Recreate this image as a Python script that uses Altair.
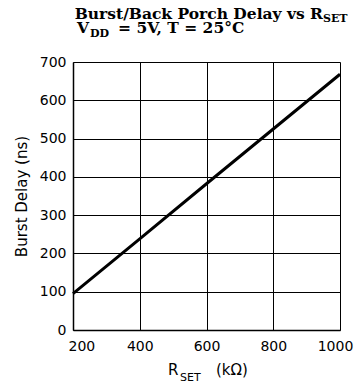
import altair as alt
import pandas as pd

# ---- data ----
r_set = [200, 400, 600, 800, 1000]
burst_delay = [95, 238, 382, 525, 668]
x_ticks = [200, 400, 600, 800, 1000]
y_ticks = [0, 100, 200, 300, 400, 500, 600, 700]

title1_main = "Burst/Back Porch Delay vs R"
title1_sub = "SET"
title2_main = "V"
title2_sub = "DD"
title2_rest = "= 5V, T = 25°C"
xtitle_main = "R"
xtitle_sub = "SET"
xtitle_rest = "(kΩ)"
y_title = "Burst Delay (ns)"

W, H = 267, 268
SANS = "DejaVu Sans"
SERIF = "DejaVu Serif"

df = pd.DataFrame({"r": r_set, "d": burst_delay})

line = alt.Chart(df).mark_line(color="black", strokeWidth=3).encode(
    x=alt.X(
        "r:Q",
        scale=alt.Scale(domain=[200, 1000], nice=False, zero=False),
        axis=alt.Axis(values=x_ticks, title=None, grid=True, ticks=False,
                      format="d", labelFlush=False,
                      labelAlign={"condition": {"test": "datum.value === 200", "value": "left"},
                                  "value": "center"},
                      labelOffset={"condition": {"test": "datum.value === 200 || datum.value === 1000",
                                                 "value": -5},
                                   "value": 0},
                      labelPadding=9, labelFont=SANS, labelFontSize=14,
                      labelColor="black", gridColor="black", gridWidth=1,
                      domainColor="black", domainWidth=1.5),
    ),
    y=alt.Y(
        "d:Q",
        scale=alt.Scale(domain=[0, 700], nice=False),
        axis=alt.Axis(values=y_ticks, title=y_title, grid=True, ticks=False,
                      labelPadding=7, labelFont=SANS, labelFontSize=14,
                      labelColor="black", gridColor="black", gridWidth=1,
                      domainColor="black", domainWidth=1.5,
                      titleFont=SANS, titleFontSize=15, titleFontWeight="normal",
                      titleColor="black", titlePadding=10),
    ),
)


def txt(s, x, y, size, font, weight="normal", align="left"):
    return alt.Chart(pd.DataFrame({"t": [s]})).mark_text(
        align=align, baseline="alphabetic", font=font, fontSize=size,
        fontWeight=weight, color="black",
    ).encode(x=alt.value(x), y=alt.value(y), text="t:N")


texts = [
    txt(title1_main, 250, -43, 15.5, SERIF, "bold", "right"),
    txt(title1_sub, 250, -40, 11, SERIF, "bold"),
    txt(title2_main, 4, -29, 15.5, SERIF, "bold"),
    txt(title2_sub, 17, -25, 11, SERIF, "bold"),
    txt(title2_rest, 45, -29, 15.5, SERIF, "bold"),
    txt(xtitle_main, 95, 313, 15, SANS),
    txt(xtitle_sub, 107, 319, 11, SANS),
    txt(xtitle_rest, 143, 313, 15, SANS),
]

chart = alt.layer(line, *texts).properties(
    width=W, height=H,
    autosize=alt.AutoSizeParams(type="none"),
    padding={"left": 65, "top": 54, "right": 15, "bottom": 54},
).configure_view(stroke="black", strokeWidth=1.5).configure(background="white")

chart.save("out.html", embed_options={"renderer": "svg", "actions": False})
